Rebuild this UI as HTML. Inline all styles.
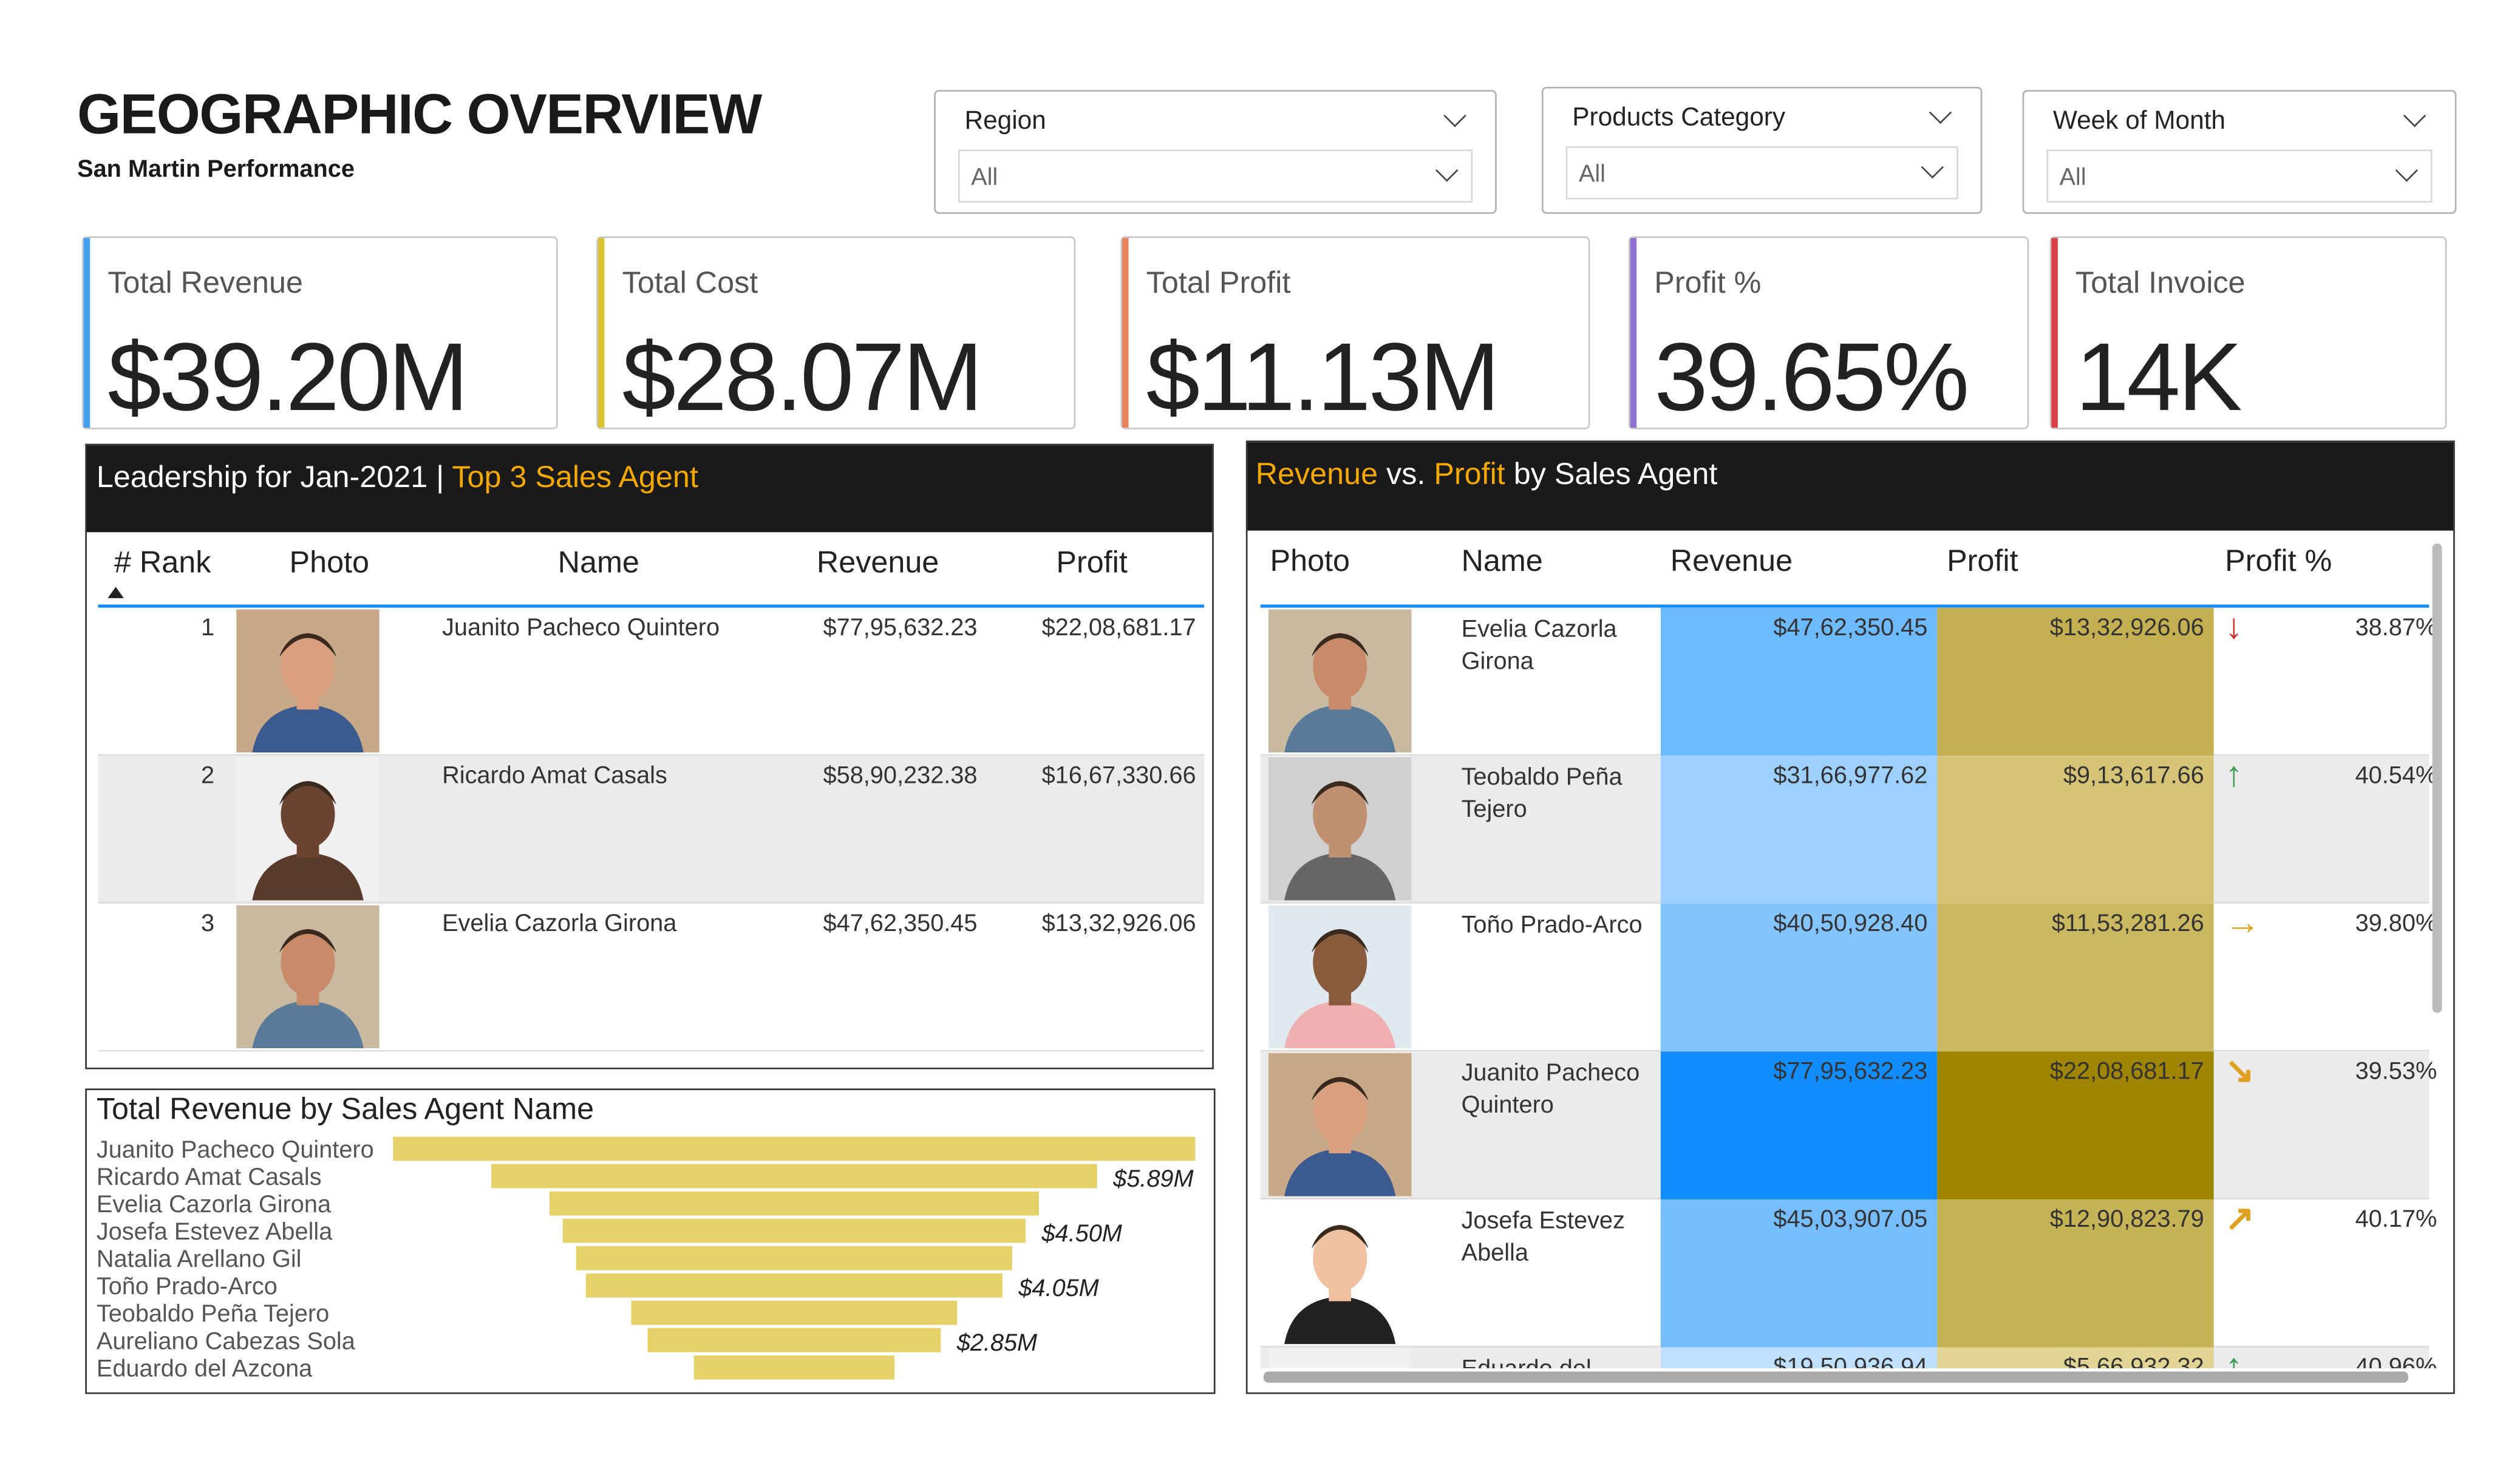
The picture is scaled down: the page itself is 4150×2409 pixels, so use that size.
<!DOCTYPE html>
<html><head><meta charset="utf-8">
<style>
html,body{margin:0;padding:0;background:#fff;}
body{width:4150px;height:2400px;overflow:hidden;position:relative;}
#root{position:absolute;left:0;top:0;width:1570px;height:910px;transform:scale(2.6475);transform-origin:0 0;font-family:"Liberation Sans",sans-serif;color:#252423;}
.abs{position:absolute;}
.slicer{position:absolute;border:1.5px solid #b0b0b0;border-radius:3px;background:#fff;}
.slicer .lbl{position:absolute;left:18px;top:10px;font-size:16px;color:#252423;}
.slicer .dd{position:absolute;left:14px;right:14px;top:36px;height:31px;border:1px solid #d8d8d8;}
.slicer .dd span{position:absolute;left:7px;top:8px;font-size:15px;color:#666;}
.chev{position:absolute;width:9px;height:9px;border-right:1.5px solid #444;border-bottom:1.5px solid #444;transform:rotate(45deg);}
.card{position:absolute;top:147px;height:118px;border:1px solid #c8c8c8;border-radius:3px;background:#fff;}
.card .bar{position:absolute;left:0;top:0;bottom:0;width:4px;}
.card .t{position:absolute;left:15px;top:18px;font-size:19px;color:#555;}
.card .v{position:absolute;left:15px;top:52px;font-size:60px;color:#222;letter-spacing:-1.5px;}
.th{position:absolute;font-size:19px;color:#222;}
.td{position:absolute;font-size:15px;color:#333;}
</style></head>
<body>
<div id="root">
  <div class="abs" style="left:48px;top:52px;font-size:35px;font-weight:bold;color:#1a1a1a;letter-spacing:-0.6px;">GEOGRAPHIC OVERVIEW</div>
  <div class="abs" style="left:48px;top:97px;font-size:15px;font-weight:bold;color:#1a1a1a;">San Martin Performance</div>

  <div class="slicer" style="left:581px;top:56px;width:348px;height:75px;">
    <div class="lbl">Region</div><div class="chev" style="right:20px;top:10px"></div>
    <div class="dd"><span>All</span><div class="chev" style="right:10px;top:7px"></div></div>
  </div>
  <div class="slicer" style="left:959px;top:54px;width:272px;height:77px;">
    <div class="lbl">Products Category</div><div class="chev" style="right:20px;top:10px"></div>
    <div class="dd"><span>All</span><div class="chev" style="right:10px;top:7px"></div></div>
  </div>
  <div class="slicer" style="left:1258px;top:56px;width:268px;height:75px;">
    <div class="lbl">Week of Month</div><div class="chev" style="right:20px;top:10px"></div>
    <div class="dd"><span>All</span><div class="chev" style="right:10px;top:7px"></div></div>
  </div>

  <div class="card" style="left:51px;width:294px;"><div class="bar" style="background:#45a0ef"></div><div class="t">Total Revenue</div><div class="v">$39.20M</div></div>
  <div class="card" style="left:371px;width:296px;"><div class="bar" style="background:#dcc230"></div><div class="t">Total Cost</div><div class="v">$28.07M</div></div>
  <div class="card" style="left:697px;width:290px;"><div class="bar" style="background:#e8825a"></div><div class="t">Total Profit</div><div class="v">$11.13M</div></div>
  <div class="card" style="left:1013px;width:247px;"><div class="bar" style="background:#8f6fd2"></div><div class="t">Profit %</div><div class="v">39.65%</div></div>
  <div class="card" style="left:1275px;width:245px;"><div class="bar" style="background:#d8404a"></div><div class="t">Total Invoice</div><div class="v">14K</div></div>

  <div class="abs" style="left:53px;top:276px;width:702px;height:389px;border:1.5px solid #333;box-sizing:border-box;">
    <div class="abs" style="left:0;top:0;right:0;height:54px;background:#1a1a1a;"></div>
    <div class="abs" style="left:6px;top:10px;font-size:19px;color:#fff;">Leadership for Jan-2021 | <span style="color:#f5a800">Top 3 Sales Agent</span></div>
  </div>
  <div id="lead"></div>

  <div class="abs" style="left:53px;top:677px;width:703px;height:190px;border:1.5px solid #333;box-sizing:border-box;"></div>
  <div class="abs" style="left:60px;top:680px;font-size:19px;color:#222;">Total Revenue by Sales Agent Name</div>
  <svg id="funnel" class="abs" style="left:0;top:0" width="1560" height="902"></svg>

  <div class="abs" style="left:775px;top:274px;width:752px;height:593px;border:1.5px solid #333;box-sizing:border-box;overflow:hidden;">
    <div class="abs" style="left:0;top:0;right:0;height:55px;background:#1a1a1a;"></div>
    <div class="abs" style="left:5px;top:10px;font-size:19px;color:#fff;"><span style="color:#f5a800">Revenue</span> vs. <span style="color:#f5a800">Profit</span> by Sales Agent</div>
    <div id="agent" class="abs" style="left:0;top:0;width:752px;height:576px;overflow:hidden;"></div>
    <div class="abs" style="left:737px;top:63px;width:6px;height:292px;background:#bbb;border-radius:3px;"></div>
    <div class="abs" style="left:10px;top:578px;width:712px;height:7px;background:#aaa;border-radius:3px;"></div>
  </div>
</div>
<script>
const funnelNames = ["Juanito Pacheco Quintero","Ricardo Amat Casals","Evelia Cazorla Girona","Josefa Estevez Abella","Natalia Arellano Gil","Toño Prado-Arco","Teobaldo Peña Tejero","Aureliano Cabezas Sola","Eduardo del Azcona"];
const funnelValues = [7.80,5.89,4.76,4.50,4.24,4.05,3.17,2.85,1.95];
const funnelLabels = ["","$5.89M","","$4.50M","","$4.05M","","$2.85M",""];

const leadRanks = [1,2,3];
const leadNames = ["Juanito Pacheco Quintero","Ricardo Amat Casals","Evelia Cazorla Girona"];
const leadRevenue = ["$77,95,632.23","$58,90,232.38","$47,62,350.45"];
const leadProfit = ["$22,08,681.17","$16,67,330.66","$13,32,926.06"];

const agentNames = ["Evelia Cazorla<br>Girona","Teobaldo Peña<br>Tejero","Toño Prado-Arco","Juanito Pacheco<br>Quintero","Josefa Estevez<br>Abella","Eduardo del"];
const agentRevenue = [47.62,31.67,40.51,77.96,45.04,19.51];
const agentProfit = [13.33,9.14,11.53,22.09,12.91,5.67];
const agentRevenueText = ["$47,62,350.45","$31,66,977.62","$40,50,928.40","$77,95,632.23","$45,03,907.05","$19,50,936.94"];
const agentProfitText = ["$13,32,926.06","$9,13,617.66","$11,53,281.26","$22,08,681.17","$12,90,823.79","$5,66,932.32"];
const agentPct = ["38.87%","40.54%","39.80%","39.53%","40.17%","40.96%"];
const agentTrend = ["down","up","right","downright","upright","up"];

const NS="http://www.w3.org/2000/svg";
function mk(tag,attrs,parent){const e=document.createElementNS(NS,tag);for(const k in attrs)e.setAttribute(k,attrs[k]);parent.appendChild(e);return e;}

(function(){
  const svg=document.getElementById('funnel');
  const cx=494, maxW=499, maxV=Math.max(...funnelValues), y0=707, step=17, bh=15;
  const xs=v=>v/maxV*maxW;
  funnelNames.forEach((n,i)=>{
    const y=y0+i*step;
    const t=mk('text',{x:60,y:y+13,'font-size':15,fill:'#555','font-family':'Liberation Sans, sans-serif'},svg);
    t.textContent=n;
    
    
    const w=xs(funnelValues[i]);
    const r=mk('rect',{x:cx-w/2,y:y,width:w,height:bh,fill:'#e6d068'},svg);
    
    
    if(funnelLabels[i]){
      const l=mk('text',{x:cx+w/2+10,y:y+14,'font-size':15,fill:'#222','font-style':'italic','font-family':'Liberation Sans, sans-serif'},svg);
      l.textContent=funnelLabels[i];
      
      
    }
  });
})();

function photo(i,w,h){
  const bgs=['#c9b9a0','#f0f0f0','#dfeaf0','#c8a888','#ffffff','#d0d0d0'];
  const skins=['#c98a6a','#6b4330','#8a5a3c','#d9a080','#f0c0a0','#c09070'];
  const shirts=['#5a7a9a','#5a3a2a','#f0b0b0','#3a5a90','#222','#666'];
  const s=skins[i%6];
  return `<svg width="${w}" height="${h}" viewBox="0 0 90 90"><rect width="90" height="90" fill="${bgs[i%6]}"/><path d="M10 90 Q15 62 45 60 Q75 62 80 90Z" fill="${shirts[i%6]}"/><rect x="38" y="45" width="14" height="18" fill="${s}"/><ellipse cx="45" cy="36" rx="17" ry="21" fill="${s}"/><path d="M27 30 Q45 6 63 30 Q58 16 45 15 Q32 16 27 30Z" fill="#3a2a1e"/></svg>`;
}

(function(){
  const root=document.getElementById('lead');
  let h='';
  h+=`<div class="th" style="left:71px;top:340px">#&nbsp;Rank</div><div class="abs" style="left:67px;top:365px;width:0;height:0;border-left:5px solid transparent;border-right:5px solid transparent;border-bottom:7px solid #222"></div>`;
  h+=`<div class="th" style="left:180px;top:340px">Photo</div>`;
  h+=`<div class="th" style="left:347px;top:340px">Name</div>`;
  h+=`<div class="th" style="left:508px;top:340px">Revenue</div>`;
  h+=`<div class="th" style="left:657px;top:340px">Profit</div>`;
  h+=`<div class="abs" style="left:61px;top:376px;width:688px;height:1.5px;background:#118dff"></div>`;
  leadRanks.forEach((r,i)=>{
    const y=378+i*92;
    h+=`<div class="abs" style="left:61px;top:${y}px;width:688px;height:91px;background:${i==1?'#ebebeb':'#fff'};border-bottom:1px solid #ddd"></div>`;
    h+=`<div class="td" style="left:125px;top:${y+4}px">${r}</div>`;
    h+=`<div class="abs" style="left:147px;top:${y+1}px">${photo([3,1,0][i],89,89)}</div>`;
    h+=`<div class="td" style="left:275px;top:${y+4}px">${leadNames[i]}</div>`;
    h+=`<div class="td" style="left:512px;top:${y+4}px">${leadRevenue[i]}</div>`;
    h+=`<div class="td" style="left:648px;top:${y+4}px">${leadProfit[i]}</div>`;
  });
  root.innerHTML=h;
})();

(function(){
  const root=document.getElementById('agent');
  const maxR=Math.max(...agentRevenue), maxP=Math.max(...agentProfit);
  function mix(c1,c2,t){return 'rgb('+c1.map((v,k)=>Math.round(v+(c2[k]-v)*t)).join(',')+')';}
  let h='';
  const hx=[14,133,263,435,608], hn=['Photo','Name','Revenue','Profit','Profit %'];
  hn.forEach((n,k)=>{h+=`<div class="th" style="left:${hx[k]}px;top:64px">${n}</div>`;});
  h+=`<div class="abs" style="left:8px;top:101px;width:727px;height:1.5px;background:#118dff"></div>`;
  const arrows={down:['↓','#d03030'],up:['↑','#3a9a50'],right:['→','#e0a020'],downright:['↘','#e0a020'],upright:['↗','#e0a020']};
  agentNames.forEach((n,i)=>{
    const y=103+i*92;
    const tr=agentRevenue[i]/maxR, tp=agentProfit[i]/maxP;
    const rc=mix([240,248,255],[17,141,255],Math.pow(tr,1.1));
    const pc=mix([245,235,190],[160,133,0],Math.pow(tp,1.1));
    h+=`<div class="abs" style="left:8px;top:${y}px;width:727px;height:91px;background:${i%2?'#ebebeb':'#fff'};border-bottom:1px solid #ddd"></div>`;
    h+=`<div class="abs" style="left:13px;top:${y+1}px">${photo([0,5,2,3,4,1][i],89,89)}</div>`;
    h+=`<div class="td" style="left:133px;top:${y+4}px;line-height:20px">${n}</div>`;
    h+=`<div class="abs" style="left:257px;top:${y}px;width:172px;height:92px;background:${rc}"></div>`;
    h+=`<div class="td" style="left:257px;width:166px;text-align:right;top:${y+4}px">${agentRevenueText[i]}</div>`;
    h+=`<div class="abs" style="left:429px;top:${y}px;width:172px;height:92px;background:${pc}"></div>`;
    h+=`<div class="td" style="left:429px;width:166px;text-align:right;top:${y+4}px">${agentProfitText[i]}</div>`;
    const a=arrows[agentTrend[i]];
    h+=`<div class="abs" style="left:608px;top:${y-1}px;font-size:22px;font-weight:bold;color:${a[1]}">${a[0]}</div>`;
    h+=`<div class="td" style="left:689px;top:${y+4}px">${agentPct[i]}</div>`;
  });
  root.innerHTML=h;
})();
</script>
</body></html>
